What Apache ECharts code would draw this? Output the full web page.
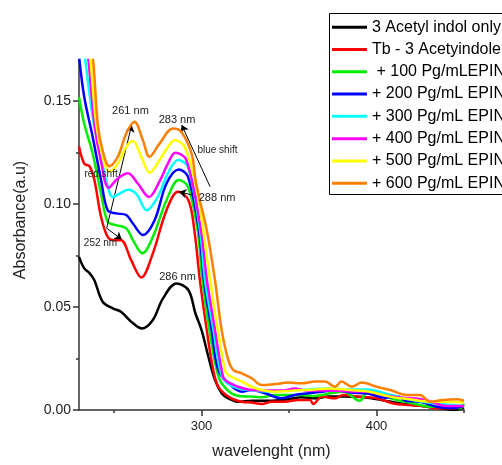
<!DOCTYPE html>
<html><head><meta charset="utf-8">
<script src="https://cdn.jsdelivr.net/npm/echarts@6/dist/echarts.min.js"></script>
<style>html,body{margin:0;padding:0;background:#fff}#c{width:502px;height:465px}</style>
</head><body><div id="c"></div>
<script>
const seriesNames = ['3 Acetyl indol only','Tb - 3 Acetyindole',' + 100 Pg/mLEPIN','+ 200 Pg/mL EPIN','+ 300 Pg/mL EPIN','+ 400 Pg/mL EPIN','+ 500 Pg/mL EPIN','+ 600 Pg/mL EPIN'];
const seriesColors = ['#000000','#ff0000','#00ee00','#0000ff','#00ffff','#ff00ff','#ffff00','#ff8000'];

const acetylOnly = [[230,0.0744],[233,0.0688],[236,0.0665],[238.8,0.0630],[243.5,0.0526],[249.3,0.0494],[254,0.0477],[259.8,0.0429],[266,0.0396],[272.2,0.0437],[278,0.0542],[285.7,0.0615],[292.5,0.0583],[296.5,0.047],[300,0.0389],[303.9,0.026],[307.7,0.0146],[311.5,0.0081],[315.3,0.0057],[321,0.004],[328.7,0.0045],[338.2,0.0045],[349.6,0.0052],[357.3,0.0062],[364.9,0.0057],[372.5,0.0065],[380,0.0065],[395,0.006],[405,0.0045],[415,0.003],[425,0.002],[435,0.001],[445,0.0],[450,0.001]];
const tbComplex = [[230,0.128],[233,0.1197],[236,0.1184],[238.8,0.1117],[242.6,0.0938],[246.4,0.0841],[250.3,0.0825],[254,0.0825],[259.8,0.0728],[265.6,0.0644],[272.2,0.0761],[280,0.097],[286.6,0.106],[292.5,0.102],[295.9,0.0874],[299.1,0.063],[303,0.0389],[306.7,0.0194],[309.6,0.0113],[315.3,0.0065],[323,0.004],[328.7,0.0036],[334.4,0.0029],[340.1,0.004],[347.7,0.004],[355.4,0.0049],[362,0.0049],[363.9,0.0029],[368.7,0.0065],[376.3,0.0057],[381,0.0073],[388.6,0.0065],[400,0.0057],[409.6,0.0032],[419.1,0.0024],[428.7,0.0016],[434.4,0.0008],[442,0.0008],[450,0.0016]];
const epin100 = [[230,0.152],[233,0.139],[237.8,0.1246],[242.6,0.105],[246.4,0.0914],[251.2,0.0898],[257,0.0882],[260.8,0.0825],[266.2,0.0761],[272.2,0.0841],[280,0.1019],[287,0.1117],[292.3,0.1084],[297.8,0.0874],[300.5,0.063],[304.5,0.0389],[308.7,0.0194],[311.5,0.013],[319,0.0073],[327.6,0.0065],[334.4,0.0062],[342,0.0073],[349.6,0.0073],[357.3,0.0073],[364.9,0.0068],[373.4,0.0081],[381,0.0089],[390.5,0.0045],[394.3,0.0081],[401.9,0.0073],[411.4,0.0049],[421,0.0032],[430.6,0.0016],[440,0.0016],[447.7,0.0008],[450,0.003]];
const epin200 = [[230,0.172],[233,0.152],[237.8,0.1327],[242.6,0.1117],[246.4,0.097],[251.2,0.0955],[257,0.0947],[260.8,0.0906],[266.5,0.085],[273.2,0.0922],[280,0.110],[287,0.1168],[292.3,0.1133],[298.5,0.0874],[301.4,0.063],[305.8,0.0389],[309.6,0.0194],[315.3,0.013],[323,0.0089],[328.7,0.0097],[336.3,0.0081],[345.8,0.0057],[353.4,0.0073],[361,0.0081],[368.7,0.0089],[376.3,0.0097],[385,0.0085],[395,0.008],[405,0.006],[412,0.0065],[417,0.0044],[425,0.004],[435,0.0015],[445,0.001],[450,0.002]];
const epin300 = [[230,0.194],[233.6,0.17],[237.8,0.1424],[241.7,0.126],[245.5,0.1117],[249.3,0.1035],[253,0.105],[258,0.107],[262.7,0.105],[268.8,0.097],[275,0.1035],[280.8,0.115],[286.6,0.1214],[292.3,0.118],[299.1,0.0874],[302,0.063],[306.8,0.0389],[310.6,0.0194],[314,0.0135],[321,0.0105],[328.7,0.0095],[340,0.009],[350,0.0095],[360,0.0100],[372,0.0105],[385,0.0100],[395,0.0100],[405,0.008],[420,0.005],[435,0.003],[450,0.002]];
const epin400 = [[230,0.205],[235.4,0.17],[238.8,0.139],[242.5,0.121],[247,0.108],[252.2,0.1125],[258,0.115],[263.6,0.110],[270,0.1035],[276,0.111],[280.8,0.1197],[285,0.125],[291.4,0.1214],[299.7,0.0874],[303.1,0.063],[307.7,0.0389],[311.5,0.0194],[313.4,0.0146],[321,0.0113],[328.7,0.0097],[340,0.0095],[347,0.0095],[353,0.0105],[360,0.0095],[372,0.0095],[385,0.009],[395,0.0089],[405,0.007],[415,0.006],[428,0.0049],[440,0.002],[450,0.002]];
const epin500 = [[230,0.215],[236.5,0.17],[239.8,0.139],[243.5,0.123],[247.4,0.1157],[252.2,0.1197],[257,0.1278],[260.8,0.1306],[265.6,0.123],[270.3,0.1152],[276,0.1214],[280.8,0.1278],[284.7,0.131],[290.4,0.1278],[297,0.1084],[301,0.0874],[304.9,0.063],[309.3,0.0389],[313.4,0.0194],[315.3,0.017],[323,0.0138],[328.7,0.0113],[334.4,0.0097],[342,0.0089],[349.6,0.0092],[357.3,0.0097],[364.9,0.01],[372.5,0.0105],[385,0.0097],[396.2,0.0089],[407.7,0.0065],[419.1,0.0052],[430.6,0.004],[442,0.004],[450,0.0036]];
const epin600 = [[230,0.22],[238,0.17],[240.7,0.139],[243.5,0.126],[247.4,0.1184],[252.2,0.123],[257,0.1343],[261.7,0.140],[266.5,0.131],[270.3,0.123],[276,0.1294],[283.7,0.1367],[288.5,0.135],[294.3,0.1246],[296.6,0.1117],[299,0.102],[303,0.0874],[307.7,0.063],[311.5,0.0389],[315.3,0.0243],[318.2,0.0194],[323,0.0178],[328.7,0.0154],[334.4,0.0121],[342,0.0126],[349.6,0.0133],[357.3,0.013],[364.9,0.0138],[370.6,0.0138],[376.3,0.0113],[380,0.0138],[385.8,0.0113],[391.5,0.0133],[400,0.0113],[407.7,0.0097],[417.3,0.0073],[424.9,0.0073],[430.6,0.004],[438.2,0.0049],[445.8,0.0052],[450,0.0045]];
const allSeries = [acetylOnly, tbComplex, epin100, epin200, epin300, epin400, epin500, epin600];

const xMajorTicks = [300, 400];
const xMinorTicks = [250, 350, 450];
const yMajorTicks = [0, 0.05, 0.10, 0.15];
const yMinorTicks = [0.025, 0.075, 0.125];

const annotationTexts = ['261 nm','283 nm','blue shift','red shft','288 nm','252 nm','286 nm'];
const annotationAt = [[259.4,0.1452],[286,0.1409],[309.1,0.1263],[242.6,0.1146],[308.9,0.103],[242.3,0.0811],[286.3,0.0646]];
const arrowLines = [
  [[245.8,0.0883],[260.1,0.1384]],
  [[245.8,0.0883],[254.4,0.0829]],
  [[304.9,0.1085],[288.7,0.1384]],
  [[298.2,0.1036],[287.3,0.106]]
];

const FONT = 'Liberation Sans, Arial, sans-serif';
const chart = echarts.init(document.getElementById('c'), null, {renderer:'canvas'});
const axisLineStyle = {color:'#333', width:1.5};

const series = allSeries.map((d, i) => ({
  name: seriesNames[i], type:'line', data: d, showSymbol:false, symbol:'none',
  smooth:0.35, clip:true, color: seriesColors[i],
  lineStyle:{width:2.5, color: seriesColors[i]}, z: 2 + i,
  markLine: i === 0 ? {
    silent:true, symbol:['none','arrow'], symbolSize:7, animation:false,
    label:{show:false}, lineStyle:{color:'#000', width:1, type:'solid'},
    data: arrowLines.map(a => [{coord:a[0]},{coord:a[1]}])
  } : undefined
}));

chart.setOption({
  animation:false,
  textStyle:{fontFamily:FONT},
  grid:{left:79, top:60, right:38, bottom:55, containLabel:false},
  legend:{
    orient:'vertical', left:329, top:13, icon:'rect', itemWidth:35, itemHeight:3,
    itemGap:4, padding:[5,10,4,3], backgroundColor:'#fff', borderWidth:0,
    textStyle:{fontSize:16, color:'#000', fontFamily:FONT, lineHeight:18.3},
    data: seriesNames, z:4
  },
  xAxis:[{
    type:'value', min:230, max:450, position:'bottom',
    axisLine:{show:true, lineStyle:axisLineStyle},
    axisTick:{show:true, customValues:xMajorTicks, length:6, lineStyle:axisLineStyle},
    axisLabel:{customValues:xMajorTicks, fontSize:13, color:'#222', margin:10, fontFamily:FONT},
    splitLine:{show:false},
    name:'wavelenght (nm)', nameLocation:'middle', nameGap:34,
    nameTextStyle:{fontSize:16, color:'#222', fontFamily:FONT}
  },{
    type:'value', min:230, max:450, position:'bottom',
    axisLine:{show:false},
    axisTick:{show:true, customValues:xMinorTicks, length:3, lineStyle:axisLineStyle},
    axisLabel:{show:false}, splitLine:{show:false}
  }],
  yAxis:[{
    type:'value', min:0, max:0.17, position:'left',
    axisLine:{show:true, lineStyle:axisLineStyle},
    axisTick:{show:true, customValues:yMajorTicks, length:6, lineStyle:axisLineStyle},
    axisLabel:{customValues:yMajorTicks, fontSize:14, color:'#222', margin:8, fontFamily:FONT,
      formatter: v => v.toFixed(2)},
    splitLine:{show:false},
    name:'Absorbance(a.u)', nameLocation:'middle', nameGap:50,
    nameTextStyle:{fontSize:16, color:'#222', fontFamily:FONT, padding:[0,0,0,30]}
  },{
    type:'value', min:0, max:0.17, position:'left',
    axisLine:{show:false},
    axisTick:{show:true, customValues:yMinorTicks, length:3, lineStyle:axisLineStyle},
    axisLabel:{show:false}, splitLine:{show:false}
  }],
  series: series
});

const labelSizes = [11,11,10,10,11,10,11];
const graphics = annotationTexts.map((t, i) => {
  const p = chart.convertToPixel({xAxisIndex:0, yAxisIndex:0}, annotationAt[i]);
  return {type:'text', x:p[0], y:p[1], z:100,
    style:{text:t, fontSize:labelSizes[i], fill:'#222', fontFamily:FONT, align:'center', verticalAlign:'middle'}};
});
// legend frame, running past the right edge of the picture as in the reference
graphics.push({type:'rect', shape:{x:329.5, y:13.5, width:220, height:181}, z:200,
  style:{fill:'none', stroke:'#000', lineWidth:1}, silent:true});
chart.setOption({graphic: graphics});
</script>
</body></html>
